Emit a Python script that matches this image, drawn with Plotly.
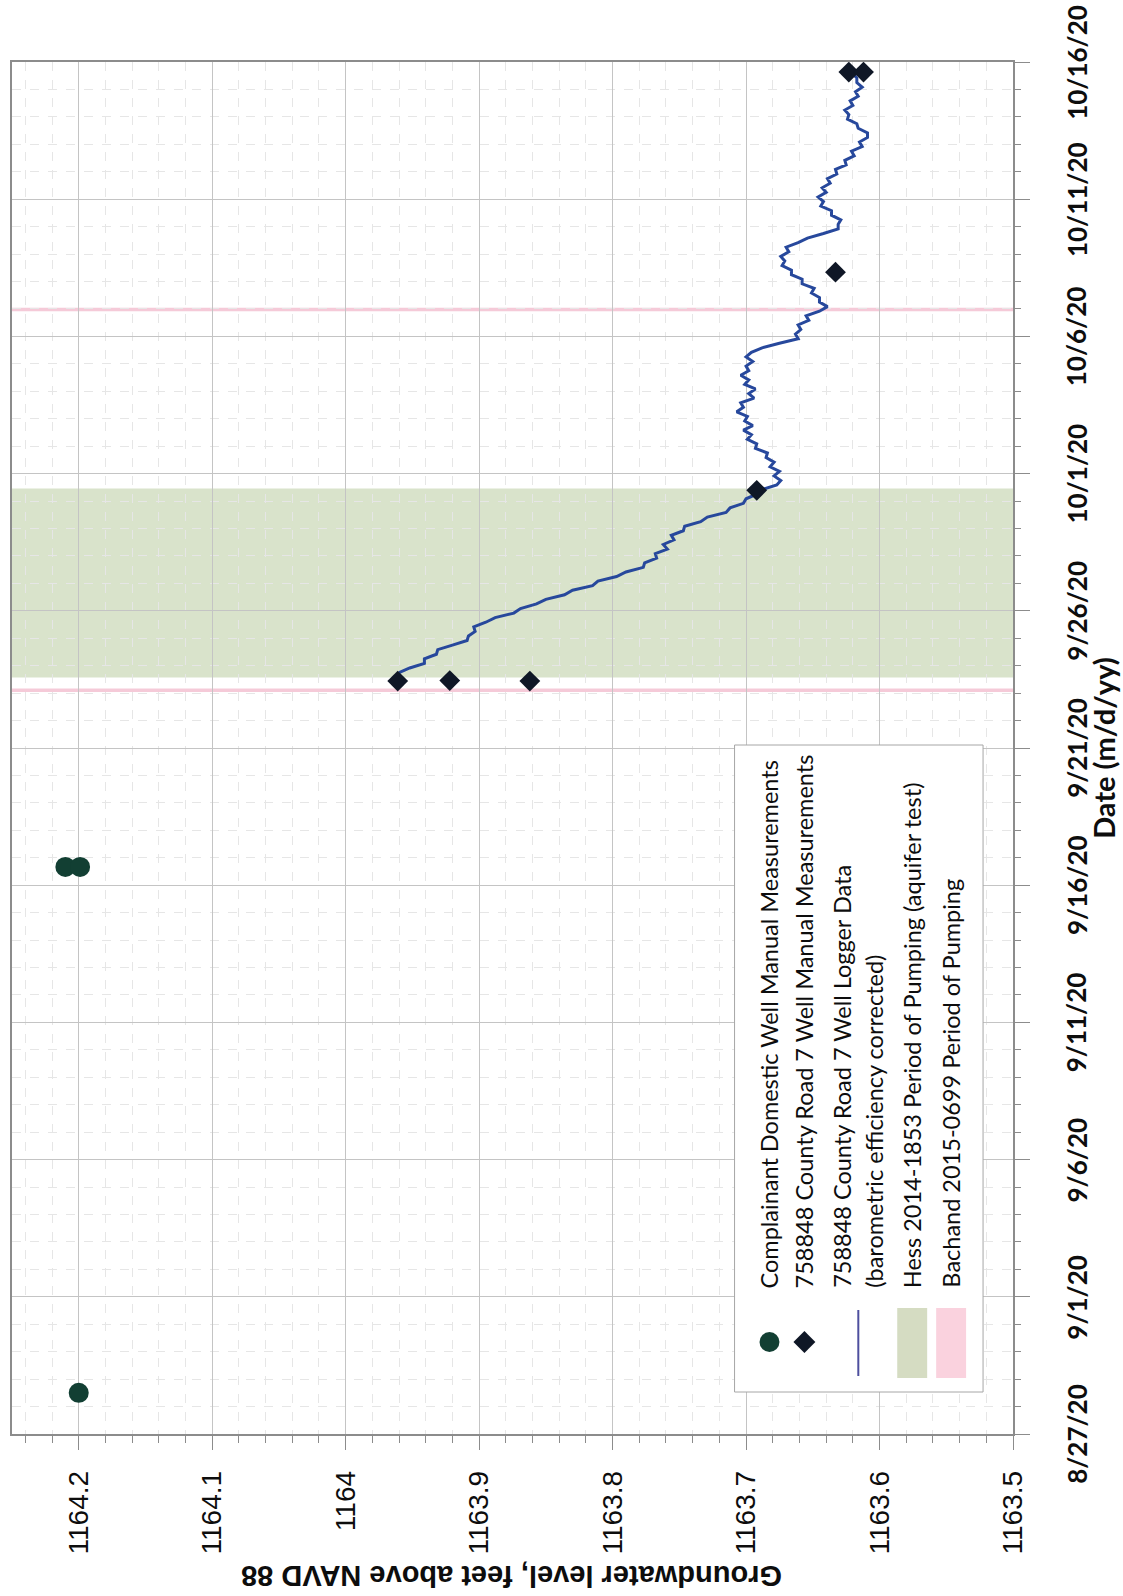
import pandas as pd
import plotly.graph_objects as go

# ---------------- data ----------------
# Complainant domestic well, manual measurements
domestic_dates = ["2020-08-28 12:00", "2020-09-16 16:00", "2020-09-16 16:00"]
domestic_levels = [1164.200, 1164.210, 1164.199]

# 758848 County Road 7 well, manual measurements
cr7_manual_dates = ["2020-09-23 10:30", "2020-09-23 11:00", "2020-09-23 10:30",
                    "2020-09-30 09:20", "2020-10-08 08:10",
                    "2020-10-15 15:10", "2020-10-15 15:10"]
cr7_manual_levels = [1163.961, 1163.922, 1163.862,
                     1163.692, 1163.633,
                     1163.623, 1163.612]

# 758848 County Road 7 well, logger record (4-hour readings, barometric efficiency corrected)
logger_start = "2020-09-23 18:00"
logger_step = "4h"
logger_levels = [
    1163.960, 1163.952, 1163.941, 1163.941, 1163.932, 1163.931, 1163.920, 1163.909,
    1163.908, 1163.903, 1163.904, 1163.895, 1163.888, 1163.874, 1163.869, 1163.857,
    1163.850, 1163.836, 1163.830, 1163.815, 1163.811, 1163.797, 1163.790, 1163.777,
    1163.776, 1163.767, 1163.768, 1163.759, 1163.762, 1163.754, 1163.756, 1163.747,
    1163.746, 1163.734, 1163.729, 1163.715, 1163.712, 1163.702, 1163.700, 1163.692,
    1163.688, 1163.677, 1163.674, 1163.679, 1163.675, 1163.682, 1163.679, 1163.685,
    1163.684, 1163.693, 1163.692, 1163.699, 1163.696, 1163.702, 1163.695, 1163.701,
    1163.699, 1163.707, 1163.702, 1163.704, 1163.694, 1163.698, 1163.693, 1163.701,
    1163.698, 1163.704, 1163.698, 1163.700, 1163.695, 1163.700, 1163.696, 1163.688,
    1163.675, 1163.661, 1163.663, 1163.659, 1163.661, 1163.653, 1163.655, 1163.645,
    1163.639, 1163.645, 1163.645, 1163.651, 1163.649, 1163.658, 1163.658, 1163.666,
    1163.666, 1163.673, 1163.671, 1163.674, 1163.668, 1163.670, 1163.661, 1163.654,
    1163.642, 1163.631, 1163.631, 1163.629, 1163.636, 1163.636, 1163.644, 1163.642,
    1163.646, 1163.640, 1163.643, 1163.637, 1163.639, 1163.632, 1163.633, 1163.625,
    1163.626, 1163.619, 1163.621, 1163.613, 1163.615, 1163.609, 1163.609, 1163.616,
    1163.617, 1163.624, 1163.623, 1163.626, 1163.620, 1163.622, 1163.616, 1163.618,
    1163.613, 1163.617, 1163.617, 1163.620,
]
logger_dates = pd.date_range(logger_start, periods=len(logger_levels), freq=logger_step)

# pumping periods
hess_period = ("2020-09-23 13:40", "2020-09-30 11:00")
bachand_periods = [("2020-09-23 01:00", "2020-09-23 04:00"),
                   ("2020-10-06 22:00", "2020-10-07 01:00")]

# axes
level_range = [1164.25, 1163.5]
date_range = ["2020-08-27", "2020-10-16"]
date_ticks = ["2020-08-27", "2020-09-01", "2020-09-06", "2020-09-11", "2020-09-16",
              "2020-09-21", "2020-09-26", "2020-10-01", "2020-10-06", "2020-10-11",
              "2020-10-16"]
date_tick_labels = ["8/27/20", "9/1/20", "9/6/20", "9/11/20", "9/16/20", "9/21/20",
                    "9/26/20", "10/1/20", "10/6/20", "10/11/20", "10/16/20"]

legend_labels = [
    "Complainant Domestic Well Manual Measurements",
    "758848 County Road 7 Well Manual Measurements",
    "758848 County Road 7 Well Logger Data",
    "(barometric efficiency corrected)",
    "Hess 2014-1853 Period of Pumping (aquifer test)",
    "Bachand 2015-0699 Period of Pumping",
]
level_title = "Groundwater level, feet above NAVD 88"
date_title = "Date (m/d/yy)"

# ---------------- page geometry ----------------
W, H = 1123, 1596
ML, MR, MT, MB = 10, 110, 62, 162
PW, PH = W - ML - MR, H - MT - MB


def px(x):
    """page x (pixels) -> paper x"""
    return (x - ML) / PW


def py(y):
    """page y (pixels, from top) -> paper y"""
    return (H - MB - y) / PH


# ---------------- colours ----------------
C_DOMESTIC = "#123f33"
C_MANUAL = "#0f1726"
C_LOGGER = "#27489c"
C_HESS = "rgba(213,224,197,0.9)"
C_BACHAND = "rgba(244,196,212,0.9)"
C_AXIS = "#8c8c8c"
C_GRID = "#c4c4c4"
C_MINOR = "#e6e6e6"
C_TEXT = "#0d0d0d"

fig = go.Figure()

fig.add_trace(go.Scatter(
    x=logger_levels, y=logger_dates, mode="lines",
    line=dict(color=C_LOGGER, width=3), showlegend=False,
))
fig.add_trace(go.Scatter(
    x=cr7_manual_levels, y=pd.to_datetime(cr7_manual_dates), mode="markers",
    marker=dict(symbol="diamond", size=16, color=C_MANUAL), showlegend=False,
))
fig.add_trace(go.Scatter(
    x=domestic_levels, y=pd.to_datetime(domestic_dates), mode="markers",
    marker=dict(symbol="circle", size=20, color=C_DOMESTIC), showlegend=False,
))

shapes = []
# pumping periods span the whole level axis
shapes.append(dict(type="rect", xref="paper", x0=0, x1=1, yref="y",
                   y0=hess_period[0], y1=hess_period[1],
                   fillcolor=C_HESS, line=dict(width=0), layer="between"))
for b0, b1 in bachand_periods:
    shapes.append(dict(type="rect", xref="paper", x0=0, x1=1, yref="y",
                       y0=b0, y1=b1, fillcolor=C_BACHAND,
                       line=dict(width=0), layer="between"))

# legend box (text runs bottom-to-top)
shapes.append(dict(type="rect", xref="paper", yref="paper",
                   x0=px(734), x1=px(983), y0=py(1392), y1=py(745),
                   fillcolor="white", line=dict(color="#a6a6a6", width=1),
                   layer="above"))
# legend: circle symbol
shapes.append(dict(type="circle", xref="paper", yref="paper",
                   x0=px(759), x1=px(779), y0=py(1352), y1=py(1332),
                   fillcolor=C_DOMESTIC, line=dict(width=0), layer="above"))
# legend: diamond symbol
cx, cy, r = 804, 1342, 11
shapes.append(dict(type="path", xref="paper", yref="paper",
                   path=(f"M {px(cx - r)},{py(cy)} L {px(cx)},{py(cy - r)} "
                         f"L {px(cx + r)},{py(cy)} L {px(cx)},{py(cy + r)} Z"),
                   fillcolor=C_MANUAL, line=dict(width=0), layer="above"))
# legend: logger line
shapes.append(dict(type="line", xref="paper", yref="paper",
                   x0=px(858), x1=px(858), y0=py(1376), y1=py(1310),
                   line=dict(color="#4d4f9e", width=2), layer="above"))
# legend: pumping swatches
shapes.append(dict(type="rect", xref="paper", yref="paper",
                   x0=px(897), x1=px(927), y0=py(1378), y1=py(1308),
                   fillcolor="#d5dcc2", line=dict(width=0), layer="above"))
shapes.append(dict(type="rect", xref="paper", yref="paper",
                   x0=px(936), x1=px(966), y0=py(1378), y1=py(1308),
                   fillcolor="#fad2de", line=dict(width=0), layer="above"))

annotations = []
legend_x = [769, 804, 841, 873, 912, 950]
for label, lx in zip(legend_labels, legend_x):
    annotations.append(dict(
        text=label, xref="paper", yref="paper", x=px(lx), y=py(1290),
        xanchor="center", yanchor="bottom", textangle=-90, showarrow=False,
        font=dict(family="Lato", size=23.5, color=C_TEXT),
    ))

# date tick labels, turned to read bottom-to-top, centred on their ticks
for d, lab in zip(date_ticks, date_tick_labels):
    annotations.append(dict(
        text=lab, xref="paper", yref="y", x=px(1077), y=d,
        xanchor="center", yanchor="middle", textangle=-90, showarrow=False,
        font=dict(family="Lato", size=26, color=C_TEXT, weight="bold"),
    ))

# axis titles (page is turned, so the level title reads upside down)
annotations.append(dict(
    text=level_title, xref="paper", yref="paper", x=px(511), y=py(1576),
    xanchor="center", yanchor="middle", textangle=180, showarrow=False,
    font=dict(family="Liberation Sans", size=29, color=C_TEXT, weight="bold"),
))
annotations.append(dict(
    text=date_title, xref="paper", yref="paper", x=px(1103), y=py(748),
    xanchor="center", yanchor="middle", textangle=-90, showarrow=False,
    font=dict(family="Lato", size=29, color=C_TEXT, weight="bold"),
))

fig.update_layout(
    width=W, height=H,
    margin=dict(l=ML, r=MR, t=MT, b=MB),
    paper_bgcolor="white", plot_bgcolor="white",
    showlegend=False,
    shapes=shapes, annotations=annotations,
    xaxis=dict(
        range=level_range, tick0=1163.5, dtick=0.1, tickformat=".5~g",
        tickangle=-90, tickfont=dict(family="Liberation Sans", size=28, color=C_TEXT),
        ticks="outside", ticklen=14, tickcolor=C_AXIS, ticklabelstandoff=10,
        showline=True, linecolor=C_AXIS, linewidth=1.5, mirror=True,
        showgrid=True, gridcolor=C_GRID, gridwidth=1, zeroline=False,
        minor=dict(tick0=1163.5, dtick=0.02, showgrid=True, gridcolor=C_MINOR,
                   griddash="dash", ticks="outside", ticklen=7, tickcolor=C_AXIS),
    ),
    yaxis=dict(
        type="date", range=date_range, side="right",
        tickvals=date_ticks, showticklabels=False,
        ticks="outside", ticklen=15, tickcolor=C_AXIS,
        showline=True, linecolor=C_AXIS, linewidth=1.5, mirror=True,
        showgrid=True, gridcolor=C_GRID, gridwidth=1, zeroline=False,
        minor=dict(dtick=86400000, showgrid=True, gridcolor=C_MINOR,
                   griddash="dash", ticks="outside", ticklen=6, tickcolor=C_AXIS),
    ),
)

fig.write_html("out.html")
